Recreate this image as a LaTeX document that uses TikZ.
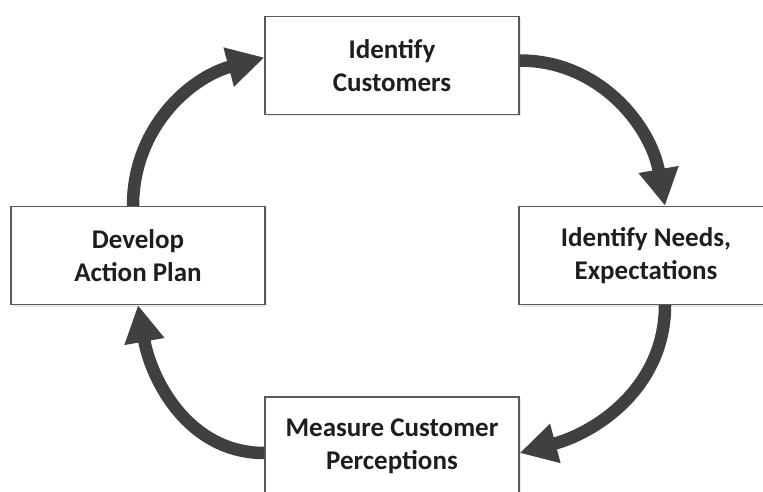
\documentclass[tikz,border=0pt]{standalone}
\usepackage{fontspec}
\setmainfont{Carlito}
\usetikzlibrary{arrows.meta,shadows}
\definecolor{arrowgray}{HTML}{404040}
\definecolor{edgegray}{HTML}{5A5A5A}
\definecolor{textgray}{HTML}{1E1E1E}

\begin{document}
\begin{tikzpicture}[x=1pt, y=1pt,
  box/.style={draw=edgegray, line width=1.2pt, fill=white, minimum width=254pt, minimum height=98pt,
    align=center, text=textgray, font=\fontsize{27}{33}\selectfont\bfseries,
    drop shadow={shadow xshift=2pt, shadow yshift=-2pt, opacity=0.18}},
  arrow/.style={-{Triangle[width=38pt,length=37pt]}, line width=12.5pt, arrowgray}
]
  \path[use as bounding box, clip] (0,0) rectangle (763,491);

  % The four steps of the cycle
  \node[box] (ident) at (392,425.5) {Identify\\Customers};
  \node[box] (needs) at (646,235.5) {Identify Needs,\\Expectations};
  \node[box] (measure) at (392,45) {Measure Customer\\Perceptions};
  \node[box] (plan) at (138,235.5) {Develop\\Action Plan};

  % Curved arrows, clockwise
  \draw[arrow] ([xshift=-5pt]plan.north) to[out=90, in=195] ([yshift=8pt]ident.west);
  \draw[arrow] ([yshift=5pt]ident.east) to[out=0, in=100] ([xshift=19pt]needs.north);
  \draw[arrow] ([xshift=19pt]needs.south) to[out=-90, in=15] ([yshift=-7pt]measure.east);
  \draw[arrow] ([yshift=-7pt]measure.west) to[out=180, in=-80] (plan.south);
\end{tikzpicture}
\end{document}
